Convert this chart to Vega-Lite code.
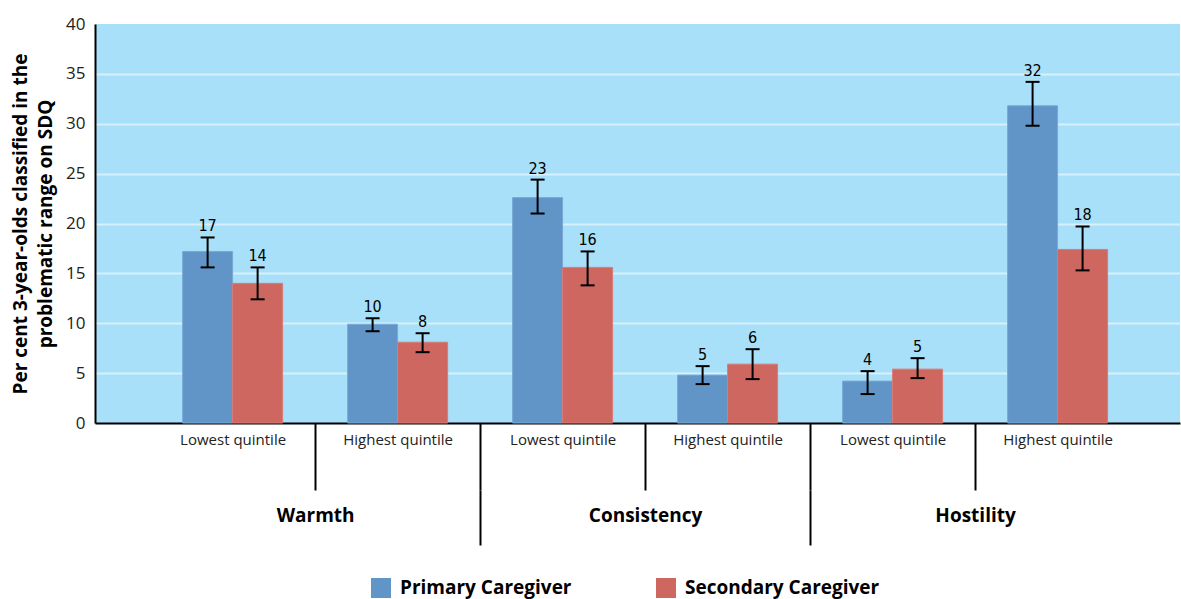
{
  "$schema": "https://vega.github.io/schema/vega-lite/v6.json",
  "width": 1085,
  "height": 399,
  "autosize": {"type": "none"},
  "padding": {"left": 95, "top": 24, "right": 1, "bottom": 176},
  "background": "white",
  "config": {
    "view": {"fill": "#a9e0f9", "stroke": null},
    "font": "Open Sans"
  },
  "data": {
    "values": [
      {"sub": "Warmth|Lowest quintile", "group": "Warmth", "cg": "Primary Caregiver", "value": 17.2, "lo": 15.6, "hi": 18.6, "label": "17"},
      {"sub": "Warmth|Lowest quintile", "group": "Warmth", "cg": "Secondary Caregiver", "value": 14.0, "lo": 12.4, "hi": 15.6, "label": "14"},
      {"sub": "Warmth|Highest quintile", "group": "Warmth", "cg": "Primary Caregiver", "value": 9.9, "lo": 9.2, "hi": 10.5, "label": "10"},
      {"sub": "Warmth|Highest quintile", "group": "Warmth", "cg": "Secondary Caregiver", "value": 8.1, "lo": 7.1, "hi": 9.0, "label": "8"},
      {"sub": "Consistency|Lowest quintile", "group": "Consistency", "cg": "Primary Caregiver", "value": 22.6, "lo": 21.0, "hi": 24.4, "label": "23"},
      {"sub": "Consistency|Lowest quintile", "group": "Consistency", "cg": "Secondary Caregiver", "value": 15.6, "lo": 13.8, "hi": 17.2, "label": "16"},
      {"sub": "Consistency|Highest quintile", "group": "Consistency", "cg": "Primary Caregiver", "value": 4.8, "lo": 3.9, "hi": 5.7, "label": "5"},
      {"sub": "Consistency|Highest quintile", "group": "Consistency", "cg": "Secondary Caregiver", "value": 5.9, "lo": 4.4, "hi": 7.4, "label": "6"},
      {"sub": "Hostility|Lowest quintile", "group": "Hostility", "cg": "Primary Caregiver", "value": 4.2, "lo": 2.9, "hi": 5.2, "label": "4"},
      {"sub": "Hostility|Lowest quintile", "group": "Hostility", "cg": "Secondary Caregiver", "value": 5.4, "lo": 4.5, "hi": 6.5, "label": "5"},
      {"sub": "Hostility|Highest quintile", "group": "Hostility", "cg": "Primary Caregiver", "value": 31.8, "lo": 29.8, "hi": 34.2, "label": "32"},
      {"sub": "Hostility|Highest quintile", "group": "Hostility", "cg": "Secondary Caregiver", "value": 17.4, "lo": 15.3, "hi": 19.7, "label": "18"}
    ]
  },
  "resolve": {"scale": {"x": "independent"}, "axis": {"x": "independent"}},
  "layer": [
    {
      "encoding": {
        "x": {
          "field": "sub", "type": "nominal", "sort": null,
          "scale": {"paddingInner": 0, "paddingOuter": 0.288, "align": 0.58},
          "axis": {
            "title": null,
            "orient": "bottom",
            "domainColor": "black",
            "domainWidth": 2,
            "tickBand": "extent",
            "tickColor": "black",
            "tickWidth": 2,
            "tickSize": 67,
            "tickOpacity": {"condition": {"test": "datum.value === 'Hostility|Highest quintile' || !datum.value", "value": 0}, "value": 1},
            "labelExpr": "split(datum.value, '|')[1]",
            "labelAngle": 0,
            "labelFont": "Open Sans",
            "labelFontSize": 15,
            "labelColor": "#222222",
            "labelPadding": -58,
            "labelBaseline": "top"
          }
        },
        "xOffset": {"field": "cg", "type": "nominal", "sort": null, "scale": {"paddingInner": 0, "paddingOuter": 0.65}}
      },
      "layer": [
        {
          "mark": {"type": "bar", "strokeWidth": 1},
          "encoding": {
            "y": {
              "field": "value", "type": "quantitative",
              "scale": {"domain": [0, 40]},
              "axis": {
                "values": [0, 5, 10, 15, 20, 25, 30, 35, 40],
                "title": ["Per cent 3-year-olds classified in the", "problematic range on SDQ"],
                "titleFont": "Open Sans",
                "titleFontSize": 19,
                "titleFontWeight": "bold",
                "titleColor": "black",
                "titlePadding": 10,
                "titleLineHeight": 25,
                "domainColor": "black",
                "domainWidth": 2,
                "ticks": false,
                "labelFont": "Open Sans",
                "labelFontSize": 17,
                "labelColor": "#222222",
                "labelPadding": 10,
                "grid": true,
                "gridColor": "#d6f1fd",
                "gridWidth": 2,
                "gridOpacity": {"condition": {"test": "datum.value === 40 || datum.value === 0", "value": 0}, "value": 1}
              }
            },
            "color": {
              "field": "cg", "type": "nominal", "sort": null,
              "scale": {"domain": ["Primary Caregiver", "Secondary Caregiver"], "range": ["#6195c8", "#cd6760"]},
              "legend": {
                "title": null,
                "orient": "none",
                "direction": "horizontal",
                "legendX": 276,
                "legendY": 554,
                "padding": 0,
                "symbolType": "square",
                "symbolSize": 400,
                "symbolOpacity": 1,
                "symbolStrokeWidth": 0,
                "labelFont": "Open Sans",
                "labelFontSize": 19,
                "labelFontWeight": "bold",
                "labelColor": "black",
                "labelOffset": 9,
                "columnPadding": 84,
                "labelLimit": 400
              }
            },
            "stroke": {
              "field": "cg", "type": "nominal", "sort": null,
              "scale": {"domain": ["Primary Caregiver", "Secondary Caregiver"], "range": ["#7aa8d6", "#d97b75"]},
              "legend": null
            }
          }
        },
        {
          "mark": {"type": "rule", "color": "black", "strokeWidth": 2},
          "encoding": {
            "y": {"field": "lo", "type": "quantitative"},
            "y2": {"field": "hi"}
          }
        },
        {
          "mark": {"type": "tick", "color": "black", "thickness": 2, "size": 14, "opacity": 1},
          "encoding": {"y": {"field": "lo", "type": "quantitative"}}
        },
        {
          "mark": {"type": "tick", "color": "black", "thickness": 2, "size": 14, "opacity": 1},
          "encoding": {"y": {"field": "hi", "type": "quantitative"}}
        },
        {
          "mark": {"type": "text", "baseline": "bottom", "dy": -3, "fontSize": 16, "font": "Liberation Sans Narrow, DejaVu Sans Condensed, Roboto Condensed, Liberation Sans", "color": "black"},
          "encoding": {
            "y": {"field": "hi", "type": "quantitative"},
            "text": {"field": "label", "type": "nominal"}
          }
        }
      ]
    },
    {
      "mark": {"type": "point", "opacity": 0},
      "encoding": {
        "x": {
          "field": "group", "type": "nominal", "sort": null,
          "scale": {"paddingInner": 0, "paddingOuter": 0.144, "align": 0.58},
          "axis": {
            "title": null,
            "orient": "bottom",
            "offset": 67,
            "domain": false,
            "tickBand": "extent",
            "tickColor": "black",
            "tickWidth": 2,
            "tickSize": 55,
            "tickOpacity": {"condition": {"test": "datum.value === 'Hostility' || !datum.value", "value": 0}, "value": 1},
            "labelAngle": 0,
            "labelFont": "Open Sans",
            "labelFontSize": 19,
            "labelFontWeight": "bold",
            "labelColor": "black",
            "labelPadding": -39,
            "labelBaseline": "top"
          }
        },
        "y": {"field": "value", "type": "quantitative"}
      }
    }
  ]
}
